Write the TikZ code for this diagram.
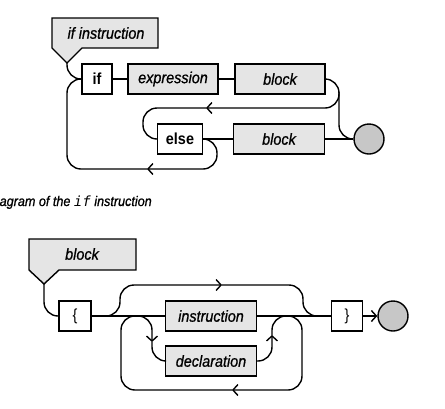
\documentclass[tikz,border=0pt]{standalone}
\usepackage{fontspec}
\setsansfont{Liberation Sans}[FakeStretch=0.9, ItalicFeatures={FakeBold=0.8}]
\setmonofont{DejaVu Sans Mono}
\usetikzlibrary{arrows.meta}

\begin{document}
\begin{tikzpicture}[x=1pt, y=-1pt, line width=1.4pt,
    nterm/.style={draw, fill=black!10, minimum height=30pt, inner sep=0pt,
      font=\sffamily\itshape\fontsize{16}{19}\selectfont},
    term/.style={draw, fill=white, minimum height=30pt, inner sep=0pt,
      font=\sffamily\bfseries\fontsize{16}{19}\selectfont},
    stop/.style={draw, circle, fill=black!22, minimum size=30pt, inner sep=0pt},
    tag/.style={draw, fill=black!10, line join=miter},
    tagtext/.style={inner sep=0pt, font=\sffamily\itshape\fontsize{16}{19}\selectfont},
    barb/.style={-{Straight Barb[length=5pt,width=11pt]}},
    curve/.style={rounded corners=14pt}]
  \useasboundingbox (0,0) rectangle (445,408);
  %
  % if instruction
  \draw[tag] (52,18) -- (158,18) -- (158,48) -- (82,48) -- (67,63) -- (52,48) -- cycle;
  \node[tagtext] (tag1) at (106,33) {if instruction};
  \coordinate (tip1) at (67,63);
  %
  \node[term, minimum width=30pt] (if) at (97,79) {if};          % first row
  \node[nterm, minimum width=90pt] (expr) at (173,79) {expression};
  \node[nterm, minimum width=90pt] (blk1) at (280,79) {block};
  %%
  \node[term, minimum width=45pt] (else) at (180,139) {else};    % second row
  \node[nterm, minimum width=91pt] (blk2) at (279,139) {block};
  \node[stop] (end1) at (369,139) {};
  %
  \draw[curve] (tip1) |- (if.west);
  \draw (if) -- (expr);
  \draw (expr) -- (blk1);
  \draw[curve] (blk1.east) -- (339,79) -- (339,139) -- (end1.west);
  \draw[curve, barb] (339,92) |- (206,108);                        % back to else
  \draw[curve] (206,108) -- (143,108) -- (143,139) -- (else.west);
  \draw (else) -- (blk2);
  \draw (blk2) -- (end1);
  \draw[curve, barb] (else.east) -- (217,139) -- (217,169) -- (147,169); % else if
  \draw[curve] (147,169) -- (67,169) -- (67,79) -- (if.west);
  %
  \node[anchor=base west, inner sep=0pt, font=\sffamily\itshape\fontsize{14}{17}\selectfont]
    (cap) at (-1,206) {agram of the \texttt{if} instruction};
  %
  % block
  \draw[tag] (29,239) -- (136,239) -- (136,270) -- (59,270) -- (44,284) -- (29,270) -- cycle;
  \node[tagtext] (tag2) at (82,254) {block};
  \coordinate (tip2) at (44,284);
  %
  \node[term, font=\sffamily\fontsize{16}{19}\selectfont, minimum width=32pt] (lbr) at (75,316) {\{};
  \node[nterm, minimum width=91pt] (instr) at (211,316) {instruction};
  \node[nterm, minimum width=91pt] (decl) at (211,361) {declaration};
  \node[term, font=\sffamily\fontsize{16}{19}\selectfont, minimum width=31pt] (rbr) at (347,316) {\}};
  \node[stop] (end2) at (393,316) {};
  %
  \draw[curve] (tip2) |- (lbr.west);
  \draw (lbr) -- (instr);
  \draw (instr) -- (rbr);
  \draw[barb] (rbr) -- (end2);
  %% empty block
  \draw[curve, barb] (lbr.east) -- (120,316) -- (120,285) -- (222,285);
  \draw[curve] (222,285) -- (303,285) -- (303,316) -- (rbr.west);
  %% repeat
  \draw[curve, barb] (287,316) -- (302,316) -- (302,390) -- (232,390);
  \draw[curve] (232,390) -- (121,390) -- (121,316) -- (137,316);
  \draw[curve, barb] (137,316) -- (152,316) -- (152,342);
  \draw[curve] (152,342) -- (152,361) -- (decl.west);
  \draw[curve, barb] (decl.east) -- (272,361) -- (272,335);
  \draw[curve] (272,335) -- (272,316) -- (287,316);
  %
\end{tikzpicture}
\end{document}
